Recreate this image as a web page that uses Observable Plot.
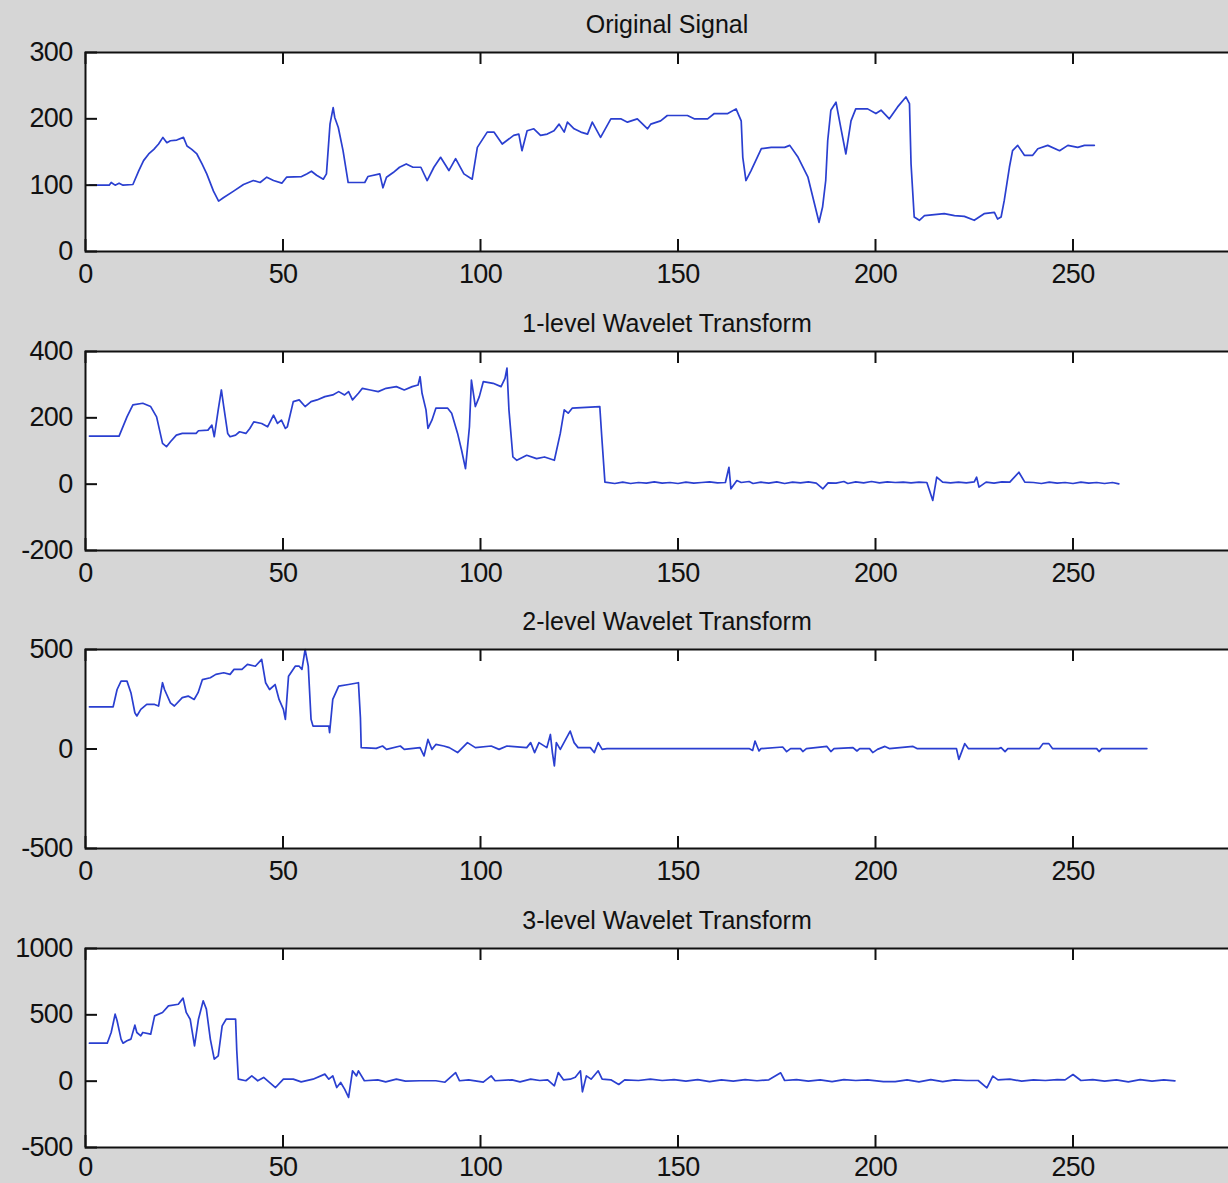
<!DOCTYPE html>
<html><head><meta charset="utf-8">
<script src="https://cdn.jsdelivr.net/npm/d3@7"></script>
<script src="https://cdn.jsdelivr.net/npm/@observablehq/plot@0.6"></script>
<style>
html,body{margin:0;padding:0;background:#d6d6d6;overflow:hidden;}
#fig{position:relative;width:1228px;height:1183px;overflow:hidden;background:#d6d6d6;}
.panel{position:absolute;left:0;width:1272px;height:299px;}
.panel svg{max-width:none !important;}
.title{position:absolute;left:0;width:1334px;top:12px;text-align:center;font-family:"Liberation Sans",Arial,sans-serif;font-size:25px;line-height:25px;color:#111;}
</style></head><body><div id="fig"></div><script>
const titles = ["Original Signal","1-level Wavelet Transform","2-level Wavelet Transform","3-level Wavelet Transform"];
const xTicks = [0,50,100,150,200,250];
const xDomain = [0,300];
const yDomains = [[0,300],[-200,400],[-500,500],[-500,1000]];
const yTicks = [[0,100,200,300],[-200,0,200,400],[-500,0,500],[-500,0,500,1000]];

const original = [[1,100],[6,100],[6.5,104],[7.5,100],[8.5,103],[9.5,100],[12,101],[13.5,122],[14.7,137],[16,147],[17.3,154],[18.5,162],[19.6,172],[20.6,164],[21.5,167],[23.1,168],[24.8,172],[25.7,159],[26.9,154],[28.2,147],[29.5,132],[30.7,117],[32.4,91],[33.7,76],[34.9,81],[37.5,91],[40,101],[42.5,107],[44.2,104],[45.9,112],[47.6,107],[49.7,103],[50.9,112],[54.7,113],[56,117],[57.2,121],[58.5,115],[60.2,109],[61,117],[61.9,192],[62.7,217],[63.1,202],[64,187],[65.2,152],[66.5,104],[70.7,104],[71.5,113],[74.5,117],[75.3,96],[76.2,112],[77.9,119],[79.5,127],[81.2,132],[82.9,127],[84.9,127],[86.5,107],[88.2,127],[89.9,142],[92,122],[93.7,140],[95.8,117],[97.9,109],[99.2,157],[101.7,180],[103.4,180],[105.5,162],[108.4,175],[109.7,177],[110.5,152],[111.8,182],[113.5,185],[115.2,175],[116.9,177],[118.6,182],[119.9,192],[121.2,180],[122,195],[123.7,185],[125.4,180],[127.1,177],[128.3,195],[130.4,172],[133,200],[135.5,200],[137.2,195],[139.7,200],[142.3,185],[143.1,192],[145.6,197],[147.3,205],[152.4,205],[154.1,200],[157.5,200],[159.2,208],[162.6,208],[164.7,215],[166,197],[166.4,142],[167.2,107],[168.5,122],[171.1,155],[173.6,157],[177,157],[178.3,160],[180.4,142],[182.9,112],[185.7,44],[186.6,67],[187.4,107],[187.9,167],[188.7,213],[190,225],[191.2,187],[192.5,147],[193.8,197],[195,215],[198,215],[200.1,208],[201.4,213],[203.5,200],[205.6,218],[207.7,233],[208.6,223],[209,132],[209.8,52],[211.1,47],[212.4,54],[217.4,57],[220,54],[222.5,53],[225,47],[227.5,57],[230.1,59],[230.9,49],[231.8,52],[232.6,77],[233.9,127],[234.7,152],[236,160],[237.7,145],[239.8,145],[241.1,155],[243.6,160],[246.6,152],[248.7,160],[251.2,157],[252.9,160],[255.4,160]];

const level1 = [[1,145],[8.5,145],[10.5,203],[12,239],[14.5,244],[16.5,234],[18,203],[19.5,123],[20.5,113],[21.5,128],[23,148],[24.5,153],[28,153],[28.6,161],[31,163],[32,178],[32.6,143],[33.6,224],[34.4,284],[35,234],[36,153],[36.6,143],[38,148],[39,158],[40.6,153],[41.6,168],[42.6,188],[44.6,183],[46.1,173],[47.6,208],[48.6,183],[49.6,193],[50.6,168],[51.1,173],[52.6,249],[54.1,254],[55.6,234],[57.1,249],[58.6,254],[60.6,264],[62.6,269],[64.1,279],[65.6,269],[66.6,279],[67.6,254],[69.1,274],[70.1,289],[72.1,284],[74.1,279],[76.1,289],[78.7,294],[80.7,284],[82.7,294],[84.2,299],[84.7,324],[85.2,274],[86.2,224],[86.7,168],[87.7,193],[88.7,229],[91.7,229],[92.7,214],[94.2,153],[95.2,103],[96.2,47],[97.2,173],[97.7,314],[98.7,234],[99.7,264],[100.7,309],[103.2,304],[105.2,294],[106.2,319],[106.7,350],[107.2,224],[108.2,82],[109.2,72],[111.7,87],[114.2,77],[116.2,82],[118.7,72],[120.2,153],[121.2,224],[122.2,214],[123.2,229],[130.2,234],[130.7,143],[131.5,6],[134,2],[136,6],[138,2],[140,5],[142,3],[144,7],[146,3],[148,5],[150,2],[152,6],[154,3],[156,5],[158,7],[160,4],[162,5],[162.9,51],[163.4,-14],[164.9,11],[166,5],[168,8],[169,2],[171,6],[173,3],[175,7],[177,2],[179,6],[181,4],[183,7],[185,3],[186.7,-14],[188,4],[190,3],[192,8],[193,2],[195,7],[197,4],[199,8],[201,4],[203,7],[205,5],[207,6],[209,4],[211,6],[213,5],[214.5,-49],[215.5,21],[217,6],[219,4],[221,6],[223,4],[225,7],[225.6,21],[226.2,-9],[228,6],[230,3],[232,7],[234,6],[236.3,36],[237.8,6],[240,5],[242,2],[244,6],[246,3],[248,5],[250,2],[252,6],[254,3],[256,5],[258,2],[260,5],[261.6,1]];

const level2 = [[1,212],[7,212],[8,299],[9,341],[10.5,341],[11.5,283],[12.5,182],[13,166],[14,199],[15.5,224],[17.5,224],[18.5,216],[19.5,333],[20,299],[21.5,232],[22.5,216],[24.5,258],[26,266],[27.5,249],[28.5,283],[29.6,349],[31.6,358],[33,375],[35,383],[36.6,375],[37.6,400],[39.6,400],[41,425],[43,416],[44.6,450],[45.6,333],[46.6,299],[48,324],[49,249],[50.1,199],[50.6,149],[51.4,366],[53.1,416],[54.1,416],[54.8,400],[55.6,500],[56.4,416],[57.1,149],[57.6,115],[61.6,115],[61.8,82],[62.6,249],[64.1,316],[66.6,324],[69.1,333],[69.6,157],[69.8,7],[73.6,3],[75.2,15],[76.2,-2],[79.7,15],[80.7,-2],[84.7,7],[85.7,-35],[86.7,48],[87.7,-2],[88.7,23],[90.7,15],[92.1,7],[94.2,-18],[96.7,32],[98.7,7],[102.7,15],[104.7,-2],[106.7,15],[111.7,7],[112.7,32],[113.7,-18],[114.8,32],[116.8,7],[117.7,73],[118.2,-18],[118.7,-85],[119.2,32],[120.2,-2],[122.7,90],[123.7,32],[124.7,7],[127.8,7],[128.8,-18],[129.8,32],[130.8,-2],[132,2],[168,2],[168.9,-7],[169.5,40],[170.5,-10],[171,2],[176.5,10],[177.5,-13],[178.5,2],[181,2],[181.6,-13],[182.5,2],[187.7,13],[188.7,-13],[189.5,2],[194.3,7],[195.3,-10],[196,2],[198.5,2],[199.3,-18],[200.5,-2],[202.4,13],[203.5,2],[209.5,13],[210.5,2],[220.5,2],[221.1,-52],[222.6,27],[223.5,2],[231.2,2],[231.8,7],[232.8,-13],[233.5,2],[241.5,2],[242.4,27],[243.9,27],[244.8,2],[256,2],[256.6,-13],[257.3,2],[268.7,2]];

const level3 = [[1,286],[5.5,286],[6.5,367],[7.5,505],[8,455],[9,317],[9.5,286],[10.5,304],[11.5,317],[12.5,422],[13,367],[14,342],[14.5,367],[16.5,354],[17.5,492],[19.5,518],[21,568],[23.5,580],[24.7,626],[25.5,518],[26.5,467],[27.6,266],[28.6,467],[29.8,606],[30.6,543],[31.6,317],[32.6,166],[33.6,191],[34.6,417],[35.6,467],[38,467],[38.3,229],[38.7,15],[40.6,3],[42.1,40],[43.6,3],[45.1,28],[48.1,-48],[50.1,15],[52.6,15],[54.6,-5],[57.6,15],[60.6,53],[61.6,15],[62.6,40],[63.6,-48],[64.6,-10],[65.6,-60],[66.6,-123],[67.6,78],[68.6,40],[69.1,78],[70.6,3],[74,10],[76,-5],[78.7,15],[81,0],[84.7,3],[88.7,3],[91,-8],[93.7,65],[94.7,3],[97,10],[100.7,-7],[102.7,40],[103.7,3],[108,10],[110,-5],[112.7,15],[115,5],[117,10],[118.7,-35],[119.7,65],[121,10],[122.7,15],[124,30],[125.3,78],[125.8,-80],[126.8,40],[128,15],[129.8,78],[130.8,15],[133,10],[135,-25],[136.5,10],[140,5],[143,15],[146,5],[149,12],[152,0],[155,12],[158,-3],[161,10],[164,0],[167,12],[170,3],[173,10],[176,63],[177,5],[180,12],[183,0],[186,10],[189,-3],[192,12],[195,5],[198,10],[202,-3],[205,-3],[208,10],[211,-5],[214,12],[217,-3],[220,10],[223,5],[226,5],[228.2,-50],[229.7,38],[231,10],[234,15],[237,0],[240,10],[243,5],[246,12],[248,10],[250,50],[252,5],[255,12],[258,0],[261,10],[264,-5],[267,12],[270,0],[273,10],[275.8,2]];

const series = [original, level1, level2, level3];

const fig = document.getElementById("fig");
const W = 1272, H = 299, mT = 52, mB = 48, mL = 85, mR = 2;
const plotH = H - mT - mB, plotW = W - mL - mR, tickLen = 12;
const tops = [0, 299, 597, 896];
const xPad = [12, 12, 12, 9];
const ink = "#111";

series.forEach((s, i) => {
  const data = s.map(([x, y]) => ({x, y}));
  const div = document.createElement("div");
  div.className = "panel";
  div.style.top = tops[i] + "px";
  const svg = Plot.plot({
    width: W, height: H, marginTop: mT, marginBottom: mB, marginLeft: mL, marginRight: mR,
    style: 'background:transparent;font-family:"Liberation Sans",Arial,sans-serif;font-size:27px;letter-spacing:-0.7px;color:#111;max-width:none;',
    x: {domain: xDomain},
    y: {domain: yDomains[i]},
    marks: [
      Plot.frame({fill: "white", stroke: null}),
      Plot.line(data, {x: "x", y: "y", stroke: "#2a3fd0", strokeWidth: 1.7}),
      Plot.tickX(xTicks, {x: d => d, insetTop: plotH - tickLen, stroke: ink, strokeWidth: 2}),
      Plot.tickX(xTicks, {x: d => d, insetBottom: plotH - tickLen, stroke: ink, strokeWidth: 2}),
      Plot.tickY(yTicks[i], {y: d => d, insetRight: plotW - tickLen, stroke: ink, strokeWidth: 2}),
      Plot.frame({stroke: ink, strokeWidth: 2}),
      Plot.axisX({anchor: "bottom", ticks: xTicks, tickSize: 0, tickPadding: xPad[i], tickFormat: d => String(d), label: null, fill: ink}),
      Plot.axisY({anchor: "left", ticks: yTicks[i], tickSize: 0, tickPadding: 13, tickFormat: d => String(d), label: null, fill: ink})
    ]
  });
  div.appendChild(svg);
  const t = document.createElement("div");
  t.className = "title";
  t.textContent = titles[i];
  div.appendChild(t);
  fig.appendChild(div);
});
</script></body></html>
